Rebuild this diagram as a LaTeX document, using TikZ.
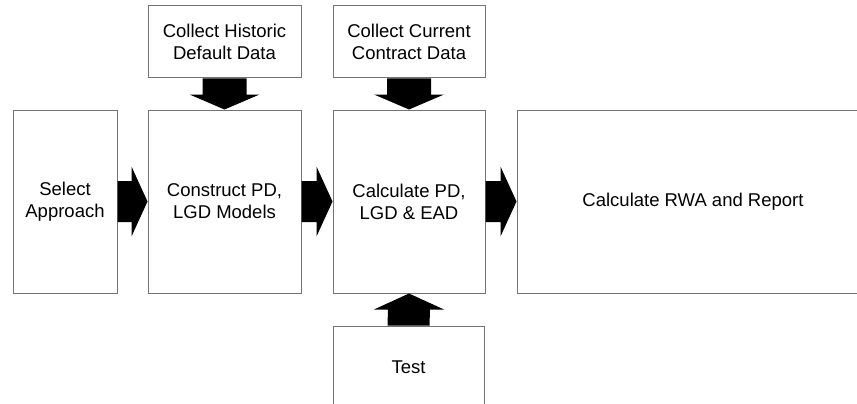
\documentclass[tikz,border=0pt]{standalone}
\usepackage{fontspec}
\setmainfont{Liberation Sans}
\usetikzlibrary{calc}
\begin{document}
\begin{tikzpicture}[x=1pt,y=-1pt,
  box/.style={draw=black!55, line width=1pt, fill=white, align=center,
    inner sep=0pt, font=\fontsize{18.5}{22}\selectfont},
  blk/.style={fill=black}]
\useasboundingbox (0,0) rectangle (857,404);
\clip (0,0) rectangle (857,404);

% process boxes
\node[box, minimum width=104, minimum height=183] (sel) at (65,201.5) {Select\\Approach};
\node[box, minimum width=153, minimum height=183] (con) at (224.5,201.5) {Construct PD,\\LGD Models};
\node[box, minimum width=152, minimum height=183] (calc) at (409,201.5) {Calculate PD,\\LGD \& EAD};
\node[box, minimum width=352, minimum height=183] (rwa) at (693,201.5) {Calculate RWA and Report};

% input boxes
\node[box, minimum width=153, minimum height=72] (hist) at (224.5,42) {Collect Historic\\Default Data};
\node[box, minimum width=152, minimum height=72] (cur) at (409,42) {Collect Current\\Contract Data};
\node[box, minimum width=151, minimum height=82] (test) at (408.5,367) {Test};

% block arrows pointing right
\foreach \a/\b in {sel/con, con/calc, calc/rwa}{
  \fill[blk] ($(\a.east)+(0,-20.5)$) -- ($(\b.west)+(-16,-20.5)$)
    -- ($(\b.west)+(-16,-35)$) -- (\b.west) -- ($(\b.west)+(-16,35)$)
    -- ($(\b.west)+(-16,20.5)$) -- ($(\a.east)+(0,20.5)$) -- cycle;
}

% block arrows pointing down
\foreach \a/\b in {hist/con, cur/calc}{
  \fill[blk] ($(\a.south)+(-22,0)$) -- ($(\b.north)+(-22,-15)$)
    -- ($(\b.north)+(-35,-15)$) -- (\b.north) -- ($(\b.north)+(35,-15)$)
    -- ($(\b.north)+(22,-15)$) -- ($(\a.south)+(22,0)$) -- cycle;
}

% block arrow pointing up
\fill[blk] ($(test.north)+(-21,0)$) -- ($(calc.south)+(-21,16)$)
  -- ($(calc.south)+(-35,16)$) -- (calc.south) -- ($(calc.south)+(35,16)$)
  -- ($(calc.south)+(21,16)$) -- ($(test.north)+(21,0)$) -- cycle;
\end{tikzpicture}
\end{document}
